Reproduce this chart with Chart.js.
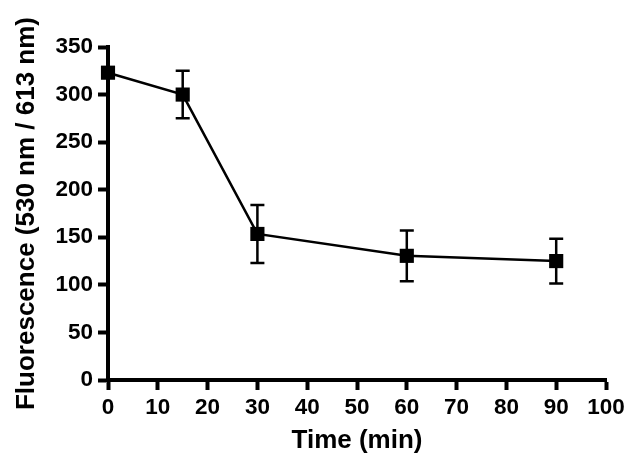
<!DOCTYPE html>
<html>
<head>
<meta charset="utf-8">
<script src="https://cdn.jsdelivr.net/npm/chart.js@4"></script>
<style>
    html, body { margin: 0; padding: 0; background: #fff; }
    #wrap { width: 632px; height: 466px; }
</style>
</head>
<body>
<div id="wrap"><canvas id="fluoChart" width="632" height="466"></canvas></div>
<script>
// Data
const timeMin = [0, 15, 30, 60, 90];
const fluorescence = [323, 300, 153.5, 130.5, 125];
const errorSd = [4, 25, 30.5, 26.7, 23.5];

// Axis ticks
const xTickValues = [0, 10, 20, 30, 40, 50, 60, 70, 80, 90, 100];
const yTickValues = [0, 50, 100, 150, 200, 250, 300, 350];

const fontFamily = '"Liberation Sans", Arial, Helvetica, sans-serif';

// Simple error bar plugin, drawn under the markers
const errorBars = {
    id: 'errorBars',
    beforeDatasetsDraw(chart) {
        const ctx = chart.ctx;
        const xs = chart.scales.x;
        const ys = chart.scales.y;
        const capHalf = 7;
        ctx.save();
        ctx.strokeStyle = '#000';
        ctx.lineWidth = 2.5;
        timeMin.forEach((t, i) => {
            const px = xs.getPixelForValue(t);
            const top = ys.getPixelForValue(fluorescence[i] + errorSd[i]);
            const bot = ys.getPixelForValue(fluorescence[i] - errorSd[i]);
            ctx.beginPath();
            ctx.moveTo(px, top);
            ctx.lineTo(px, bot);
            ctx.moveTo(px - capHalf, top);
            ctx.lineTo(px + capHalf, top);
            ctx.moveTo(px - capHalf, bot);
            ctx.lineTo(px + capHalf, bot);
            ctx.stroke();
        });
        ctx.restore();
    }
};

const ctx = document.getElementById('fluoChart').getContext('2d');

new Chart(ctx, {
    type: 'scatter',
    data: {
        datasets: [{
            data: timeMin.map((t, i) => ({ x: t, y: fluorescence[i] })),
            showLine: true,
            borderColor: '#000',
            borderWidth: 2.5,
            backgroundColor: '#000',
            pointStyle: 'rect',
            pointRadius: 10,
            pointBorderWidth: 0,
            clip: false
        }]
    },
    options: {
        responsive: false,
        devicePixelRatio: 1,
        animation: false,
        layout: {
            padding: { top: 47, right: 26, left: 0, bottom: 0 }
        },
        plugins: {
            legend: { display: false },
            tooltip: { enabled: false }
        },
        scales: {
            x: {
                type: 'linear',
                min: 0,
                max: 100,
                afterBuildTicks: s => { s.ticks = xTickValues.map(v => ({ value: v })); },
                afterFit: s => { s.height = 86; },
                grid: {
                    drawOnChartArea: false,
                    drawTicks: true,
                    tickLength: 10,
                    tickWidth: 4,
                    tickColor: '#000'
                },
                border: { display: true, color: '#000', width: 4 },
                ticks: {
                    color: '#000',
                    padding: 4,
                    maxRotation: 0,
                    autoSkip: false,
                    font: { family: fontFamily, size: 22.5, weight: 'bold' }
                },
                title: {
                    display: true,
                    text: 'Time (min)',
                    color: '#000',
                    padding: { top: 0, bottom: 10 },
                    font: { family: fontFamily, size: 26, weight: 'bold' }
                }
            },
            y: {
                type: 'linear',
                min: 0,
                max: 350,
                afterBuildTicks: s => { s.ticks = yTickValues.map(v => ({ value: v })); },
                afterFit: s => { s.width = 108; },
                grid: {
                    drawOnChartArea: false,
                    drawTicks: true,
                    tickLength: 10,
                    tickWidth: 4,
                    tickColor: '#000'
                },
                border: { display: true, color: '#000', width: 4 },
                ticks: {
                    color: '#000',
                    padding: 5,
                    autoSkip: false,
                    font: { family: fontFamily, size: 22.5, weight: 'bold' }
                },
                title: {
                    display: true,
                    text: 'Fluorescence (530 nm / 613 nm)',
                    color: '#000',
                    padding: { top: 11, bottom: 0 },
                    font: { family: fontFamily, size: 26, weight: 'bold' }
                }
            }
        }
    },
    plugins: [errorBars]
});
</script>
</body>
</html>
